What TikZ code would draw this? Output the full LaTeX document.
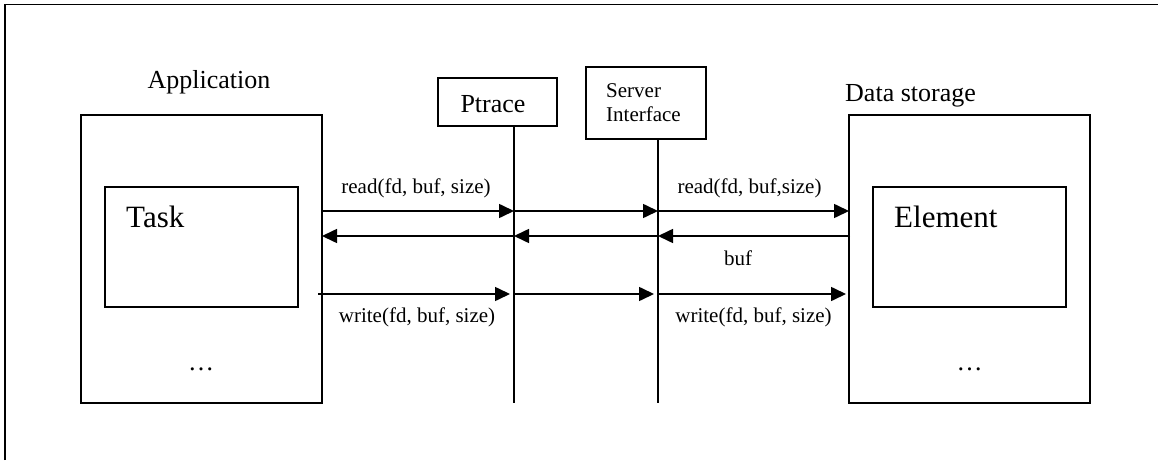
\documentclass[tikz,border=0pt]{standalone}
\usepackage{fontspec}
\setmainfont{Liberation Serif}
\usetikzlibrary{arrows.meta}
\begin{document}
\begin{tikzpicture}[x=1pt,y=-1pt,
  box/.style={draw, line width=1.5pt, inner sep=0pt, rectangle},
  life/.style={line width=1.5pt},
  arr/.style={line width=1.6pt, -{Triangle[length=15pt,width=14pt]}},
  lbl/.style={font=\fontsize{21}{24.5}\selectfont, inner sep=0pt, anchor=base},
  big/.style={font=\fontsize{26}{30}\selectfont, inner sep=0pt, anchor=base},
  huge/.style={font=\fontsize{31}{36}\selectfont, inner sep=0pt, anchor=base west}]
\useasboundingbox (0,0) rectangle (1158,460);
% outer frame (cut by the page edge)
\coordinate (fb) at (5,460);
\coordinate (fc) at (5,4.7);
\coordinate (fr) at (1158,4.7);
\draw[line width=1.5pt] (fb) -- (fc) -- (fr);
% boxes
\node[box, minimum width=241pt, minimum height=288pt] (app) at (201.5,259) {};
\node[box, minimum width=193pt, minimum height=120pt] (task) at (201.5,247) {};
\node[box, minimum width=241pt, minimum height=288pt] (data) at (969.5,259) {};
\node[box, minimum width=193pt, minimum height=120pt] (elem) at (969.5,247) {};
\node[box, minimum width=119pt, minimum height=48pt] (ptrace) at (497.5,102) {};
\node[box, minimum width=120pt, minimum height=72pt] (server) at (646,103) {};
% texts
\node[big] (tapp) at (209,88) {Application};
\node[big, anchor=base west] (tdata) at (845,101) {Data storage};
\node[huge] (ttask) at (126,227) {Task};
\node[huge] (telem) at (894,227) {Element};
\node[big] (tpt) at (493,112) {Ptrace};
\node[lbl, anchor=base west] (tsrv) at (606,97) {Server};
\node[lbl, anchor=base west] (tsrv2) at (606,121.5) {Interface};
\node[big] (dots1) at (201,370) {…};
\node[big] (dots2) at (969.5,370) {…};
% lifelines
\coordinate (p0) at (514,126);
\coordinate (p1) at (514,403);
\coordinate (s0) at (658,139);
\coordinate (s1) at (658,403);
\draw[life] (p0) -- (p1);
\draw[life] (s0) -- (s1);
% read row
\coordinate (rA) at (322,211);
\coordinate (rP) at (514,211);
\coordinate (rS) at (658,211);
\coordinate (rD) at (849,211);
\draw[arr] (rA) -- (rP);
\draw[arr] (rP) -- (rS);
\draw[arr] (rS) -- (rD);
% back row
\coordinate (bA) at (322,236);
\coordinate (bP) at (514,236);
\coordinate (bS) at (658,236);
\coordinate (bD) at (850,236);
\draw[arr] (bD) -- (bS);
\draw[arr] (bS) -- (bP);
\draw[arr] (bP) -- (bA);
% write row
\coordinate (wA) at (318,294);
\coordinate (wP) at (510,294);
\coordinate (wP2) at (514,294);
\coordinate (wS) at (654,294);
\coordinate (wS2) at (658,294);
\coordinate (wD) at (846,294);
\draw[arr] (wA) -- (wP);
\draw[arr] (wP2) -- (wS);
\draw[arr] (wS2) -- (wD);
% labels
\node[lbl] (l1) at (416,193) {read(fd, buf, size)};
\node[lbl] (l2) at (749.5,193) {read(fd, buf,size)};
\node[lbl] (l3) at (738,265) {buf};
\node[lbl] (l4) at (417,322) {write(fd, buf, size)};
\node[lbl] (l5) at (753.5,322) {write(fd, buf, size)};
\end{tikzpicture}
\end{document}
